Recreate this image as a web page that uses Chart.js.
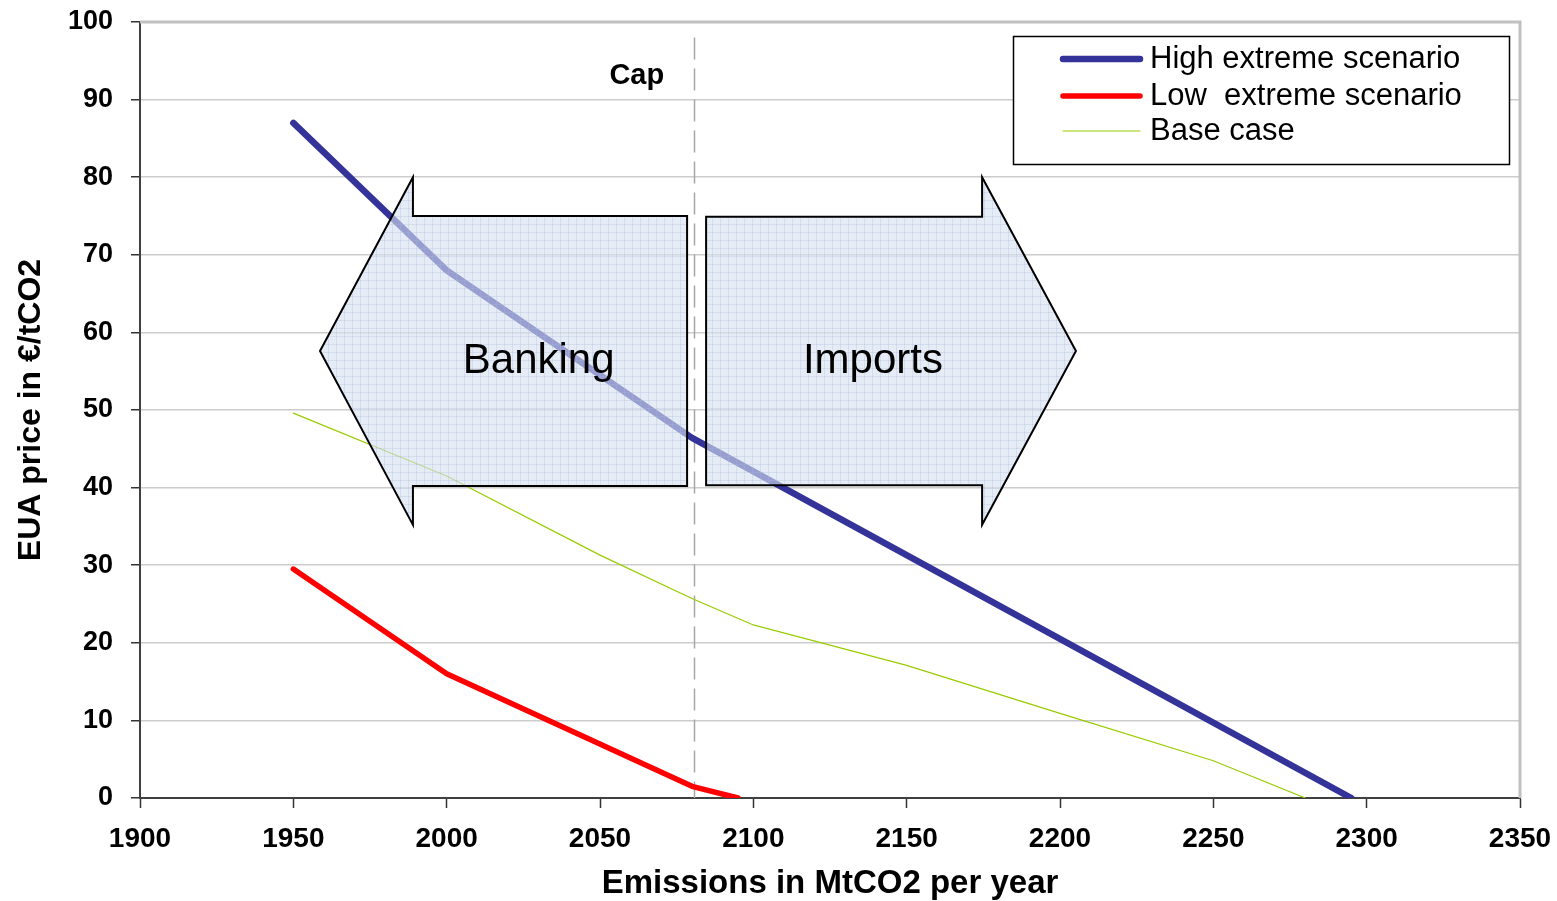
<!DOCTYPE html>
<html>
<head>
<meta charset="utf-8">
<script src="https://cdn.jsdelivr.net/npm/chart.js@4.4.1/dist/chart.umd.min.js"></script>
<style>
  body { margin: 0; background: #fff; }
  #wrap { width: 1557px; height: 901px; }
</style>
</head>
<body>
<div id="wrap"><canvas id="myChart"></canvas></div>
<script>
// tick labels
const xTicks = [1900, 1950, 2000, 2050, 2100, 2150, 2200, 2250, 2300, 2350];
const yTicks = [0, 10, 20, 30, 40, 50, 60, 70, 80, 90, 100];

// series (emissions -> price)
const highX = [1950, 2000, 2080, 2295];
const highY = [87, 68, 46.4, 0];
const lowX = [1950, 2000, 2080, 2095];
const lowY = [29.5, 16, 1.5, 0];
const baseX = [1950, 2000, 2050, 2080, 2100, 2150, 2200, 2250, 2280];
const baseY = [49.6, 41.5, 31.3, 25.7, 22.3, 17.1, 10.9, 4.8, 0];

const seriesNames = ['High extreme scenario', 'Low  extreme scenario', 'Base case'];

const capValue = 2080.5;

function pts(xs, ys) {
    return xs.map((x, i) => ({ x: x, y: ys[i] }));
}

// annotation arrows, in data units
const arrows = [
    { text: 'Banking', tip: 1958.7, neck: 1989, end: 2078.4, top: 75, bottom: 40.2,
      headTop: 80, headBottom: 35.2, mid: 57.6, textX: 2030, textY: 56.2 },
    { text: 'Imports', tip: 2205.2, neck: 2174.6, end: 2084.6, top: 74.9, bottom: 40.3,
      headTop: 80, headBottom: 35.2, mid: 57.6, textX: 2139, textY: 56.2 }
];

Chart.defaults.font.family = '"Liberation Sans", Arial, sans-serif';

function makePattern(ctx) {
    const c = document.createElement('canvas');
    c.width = 8; c.height = 8;
    const p = c.getContext('2d');
    p.fillStyle = 'rgba(214,224,240,0.62)';
    p.fillRect(0, 0, 8, 8);
    p.fillStyle = 'rgba(170,185,215,0.3)';
    p.fillRect(0, 0, 8, 1);
    p.fillRect(0, 0, 1, 8);
    return ctx.createPattern(c, 'repeat');
}

const overlay = {
    id: 'overlay',
    beforeDatasetsDraw(chart) {
        const ctx = chart.ctx, a = chart.chartArea;
        ctx.save();
        ctx.strokeStyle = '#c0c0c0';
        ctx.lineWidth = 3;
        ctx.beginPath();
        ctx.moveTo(a.left, a.top);
        ctx.lineTo(a.right, a.top);
        ctx.lineTo(a.right, a.bottom);
        ctx.stroke();
        // cap line
        const xs = chart.scales.x, ys = chart.scales.y;
        const cx = Math.round(xs.getPixelForValue(capValue)) + 0.5;
        ctx.strokeStyle = '#a6a6a6';
        ctx.lineWidth = 1.5;
        ctx.setLineDash([22, 9]);
        ctx.beginPath();
        ctx.moveTo(cx, ys.getPixelForValue(98));
        ctx.lineTo(cx, ys.getPixelForValue(0));
        ctx.stroke();
        ctx.setLineDash([]);
        ctx.fillStyle = '#000';
        ctx.font = 'bold 29px "Liberation Sans", Arial';
        ctx.textAlign = 'center';
        ctx.textBaseline = 'middle';
        ctx.fillText('Cap', xs.getPixelForValue(2062), ys.getPixelForValue(93));
        ctx.restore();
    },
    afterDatasetsDraw(chart) {
        const ctx = chart.ctx;
        const xs = chart.scales.x, ys = chart.scales.y;
        const X = v => xs.getPixelForValue(v), Y = v => ys.getPixelForValue(v);
        ctx.save();
        const pat = makePattern(ctx);
        arrows.forEach(s => {
            ctx.beginPath();
            ctx.moveTo(X(s.tip), Y(s.mid));
            ctx.lineTo(X(s.neck), Y(s.headTop));
            ctx.lineTo(X(s.neck), Y(s.top));
            ctx.lineTo(X(s.end), Y(s.top));
            ctx.lineTo(X(s.end), Y(s.bottom));
            ctx.lineTo(X(s.neck), Y(s.bottom));
            ctx.lineTo(X(s.neck), Y(s.headBottom));
            ctx.closePath();
            ctx.fillStyle = pat;
            ctx.fill();
            ctx.strokeStyle = '#000';
            ctx.lineWidth = 2;
            ctx.lineJoin = 'miter';
            ctx.stroke();
            ctx.fillStyle = '#000';
            ctx.font = '42px "Liberation Sans", Arial';
            ctx.textAlign = 'center';
            ctx.textBaseline = 'middle';
            ctx.fillText(s.text, X(s.textX), Y(s.textY));
        });
        ctx.restore();
    },
    afterDraw(chart) {
        const ctx = chart.ctx, a = chart.chartArea;
        const left = a.right - 507, top = a.top + 14, w = 496, h = 128;
        ctx.save();
        ctx.fillStyle = '#fff';
        ctx.fillRect(left, top, w, h);
        ctx.strokeStyle = '#000';
        ctx.lineWidth = 1.5;
        ctx.strokeRect(left + 0.5, top + 0.5, w, h);
        const rows = [23, 60, 95];
        chart.data.datasets.forEach((d, i) => {
            const y = top + rows[i];
            ctx.strokeStyle = d.borderColor;
            ctx.lineWidth = d.borderWidth;
            ctx.lineCap = 'round';
            ctx.beginPath();
            ctx.moveTo(left + 50, y);
            ctx.lineTo(left + 127, y);
            ctx.stroke();
            ctx.fillStyle = '#000';
            ctx.font = '31px "Liberation Sans", Arial';
            ctx.textAlign = 'left';
            ctx.textBaseline = 'middle';
            ctx.fillText(d.label, left + 137, y);
        });
        ctx.restore();
    }
};

const ctx = document.getElementById('myChart').getContext('2d');
const myChart = new Chart(ctx, {
    type: 'line',
    data: {
        datasets: [{
            label: seriesNames[0],
            data: pts(highX, highY),
            borderColor: '#333399',
            borderWidth: 6.5
        }, {
            label: seriesNames[1],
            data: pts(lowX, lowY),
            borderColor: '#ff0000',
            borderWidth: 5.5
        }, {
            label: seriesNames[2],
            data: pts(baseX, baseY),
            borderColor: '#99cc00',
            borderWidth: 1.2
        }]
    },
    options: {
        responsive: true,
        maintainAspectRatio: false,
        animation: false,
        elements: {
            point: { radius: 0 },
            line: { tension: 0, borderCapStyle: 'round', borderJoinStyle: 'round' }
        },
        layout: { padding: { top: 22, right: 37, left: 0, bottom: 0 } },
        plugins: { legend: { display: false }, tooltip: { enabled: false } },
        scales: {
            x: {
                type: 'linear',
                min: 1900, max: 2350,
                afterBuildTicks: s => { s.ticks = xTicks.map(v => ({ value: v })); },
                afterFit: s => { s.height = 103; s.paddingLeft = 0; s.paddingRight = 0; },
                grid: { drawOnChartArea: false, tickLength: 10, tickColor: '#333', tickWidth: 1.5 },
                border: { color: '#404040', width: 2 },
                ticks: {
                    color: '#000', padding: 14, font: { size: 28, weight: 'bold' },
                    callback: v => String(v)
                },
                title: {
                    display: true, text: 'Emissions in MtCO2 per year', color: '#000',
                    font: { size: 33, weight: 'bold' }, padding: { top: 4, bottom: -3 }
                }
            },
            y: {
                min: 0, max: 100,
                afterBuildTicks: s => { s.ticks = yTicks.map(v => ({ value: v })); },
                afterFit: s => { s.width = 140; s.paddingTop = 0; s.paddingBottom = 0; },
                grid: { color: '#cccccc', lineWidth: 1.5, tickLength: 9, tickColor: '#333', tickWidth: 1.5 },
                border: { color: '#404040', width: 2 },
                ticks: {
                    color: '#000', padding: 18, font: { size: 27, weight: 'bold' },
                    callback: v => String(v)
                },
                title: {
                    display: true, text: 'EUA price in €/tCO2', color: '#000',
                    font: { size: 32, weight: 'bold' }, padding: { top: 12, bottom: 4 }
                }
            }
        }
    },
    plugins: [overlay]
});
</script>
</body>
</html>
